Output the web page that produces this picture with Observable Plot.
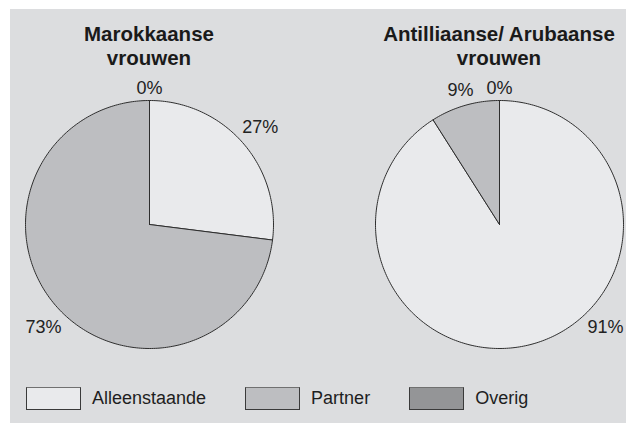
<!DOCTYPE html>
<html>
<head>
<meta charset="utf-8">
<script src="https://cdn.jsdelivr.net/npm/d3@7"></script>
<script src="https://cdn.jsdelivr.net/npm/@observablehq/plot@0.6"></script>
<style>
  html, body { margin: 0; padding: 0; background: #ffffff; overflow: hidden; width: 626px; height: 423px; }
  body { font-family: "Liberation Sans", Arial, Helvetica, sans-serif; position: relative; }
  #panel { position: absolute; left: 10px; top: 9px; width: 616px; height: 414px; background: #dcdddf; }
  .chart { position: absolute; top: 0; }
  .title { position: absolute; top: 22px; width: 320px; text-align: center; font-weight: bold; font-size: 20.5px; line-height: 24px; color: #1a1a1a; }
  #legend { position: absolute; left: 26px; top: 387px; display: flex; align-items: center; font-size: 18px; color: #1e1e1e; }
  .item { display: flex; align-items: center; margin-right: 39px; }
  .swatch { box-sizing: border-box; width: 55px; height: 23px; border: 1.5px solid #3a3a3a; border-top-color: #707070; margin-right: 11px; }
</style>
</head>
<body>
<div id="panel"></div>
<div id="charts"></div>
<div id="legend"></div>
<script>
// ---- data ----
const categories = ["Alleenstaande", "Partner", "Overig"];
const colors = ["#e9eaec", "#bdbec1", "#949597"];
const groups = ["Marokkaanse vrouwen", "Antilliaanse/ Arubaanse vrouwen"];
const titleLines = [["Marokkaanse", "vrouwen"], ["Antilliaanse/ Arubaanse", "vrouwen"]];
const marokkaanse = [27, 73, 0];      // % per category
const antilliaanse = [91, 9, 0];      // % per category
const seriesValues = [marokkaanse, antilliaanse];
// label angle (deg, clockwise from top) where the source moved a label away from the slice middle
const labelAngleOverride = [{Partner: 226}, {Alleenstaande: 134}];

// ---- layout (not data) ----
const R = 124;                 // pie radius in px
const pieCenters = [149, 499]; // page x of the pie centres
const chartW = 320, chartH = 370, mTop = 100;
const fontSize = 18;

function textWidth(s) {
  let w = 0;
  for (const ch of s) w += ch === "%" ? 0.889 : 0.556;
  return w * fontSize;
}

const charts = document.getElementById("charts");

groups.forEach((group, gi) => {
  const values = seriesValues[gi];
  const total = d3.sum(values);
  const pts = [];
  const labels = [];
  let acc = 0;
  categories.forEach((cat, i) => {
    const a0 = acc / total * 2 * Math.PI;
    acc += values[i];
    const a1 = acc / total * 2 * Math.PI;
    const key = cat;
    pts.push({key, cat, x: 0, y: 0});
    const n = Math.max(1, Math.ceil((a1 - a0) / (Math.PI / 180)));
    for (let k = 0; k <= n; k++) {
      const a = a0 + (a1 - a0) * k / n;
      pts.push({key, cat, x: Math.sin(a), y: Math.cos(a)});
    }
    pts.push({key, cat, x: 0, y: 0});
    // label
    const ov = labelAngleOverride[gi][cat];
    const am = ov !== undefined ? ov * Math.PI / 180 : (a0 + a1) / 2;
    const txt = values[i] + "%";
    const hw = textWidth(txt) / 2 + 1, hh = 8;
    const dist = 1 + (4 + hw * Math.abs(Math.sin(am)) + hh * Math.abs(Math.cos(am))) / R;
    labels.push({text: txt, x: Math.sin(am) * dist, y: Math.cos(am) * dist});
  });

  const side = (chartW - 2 * R) / 2;
  const plot = Plot.plot({
    width: chartW,
    height: chartH,
    marginLeft: side,
    marginRight: side,
    marginTop: mTop,
    marginBottom: chartH - mTop - 2 * R,
    x: {domain: [-1, 1], axis: null},
    y: {domain: [-1, 1], axis: null},
    color: {domain: categories, range: colors},
    style: {background: "transparent", overflow: "visible", fontFamily: "'Liberation Sans', Arial, sans-serif"},
    marks: [
      Plot.line(pts, {x: "x", y: "y", z: "key", fill: "cat", stroke: "#2e2e2e", strokeWidth: 1, strokeLinejoin: "round"}),
      Plot.text(labels, {x: "x", y: "y", text: "text", fontSize: fontSize, fill: "#222", textAnchor: "middle", lineAnchor: "middle"})
    ]
  });
  plot.classList.add("chart");
  plot.style.left = (pieCenters[gi] - chartW / 2) + "px";
  charts.appendChild(plot);

  const t = document.createElement("div");
  t.className = "title";
  t.style.left = (pieCenters[gi] - 160) + "px";
  t.innerHTML = titleLines[gi].join("<br>");
  charts.appendChild(t);
});

// legend
const legend = document.getElementById("legend");
categories.forEach((cat, i) => {
  const item = document.createElement("div");
  item.className = "item";
  const sw = document.createElement("div");
  sw.className = "swatch";
  sw.style.background = colors[i];
  const lab = document.createElement("span");
  lab.textContent = cat;
  item.appendChild(sw);
  item.appendChild(lab);
  legend.appendChild(item);
});
</script>
</body>
</html>
